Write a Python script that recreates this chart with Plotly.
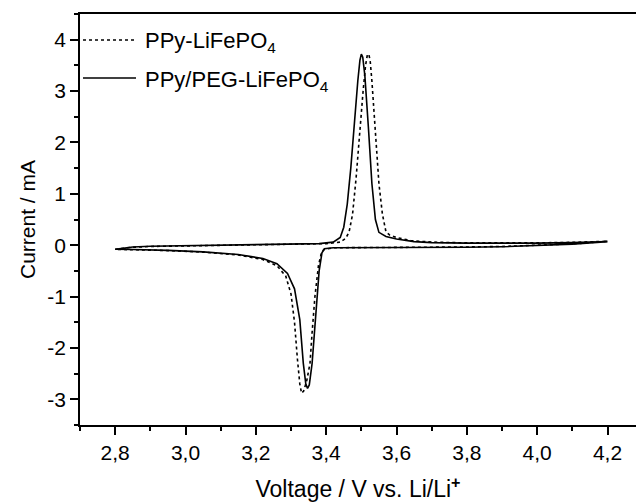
import plotly.graph_objects as go

# ---- data ----
series_names = ["PPy-LiFePO<sub>4</sub>", "PPy/PEG-LiFePO<sub>4</sub>"]

# PPy-LiFePO4 (dotted): anodic sweep then cathodic sweep
ppy_v = [2.80, 2.85, 2.90, 3.00, 3.10, 3.20, 3.30, 3.40, 3.44, 3.455, 3.465, 3.475, 3.485,
         3.495, 3.505, 3.512, 3.517, 3.521, 3.525, 3.53, 3.54, 3.55, 3.56, 3.57, 3.58, 3.60, 3.64,
         3.70, 3.80, 3.90, 4.00, 4.10, 4.20,
         4.10, 4.00, 3.90, 3.80, 3.70, 3.60, 3.50, 3.42, 3.395, 3.387, 3.378, 3.368, 3.36,
         3.354, 3.345, 3.336, 3.330, 3.325, 3.318, 3.31, 3.30, 3.285, 3.26, 3.22, 3.15,
         3.05, 2.95, 2.85, 2.80]
ppy_i = [-0.08, -0.04, -0.025, -0.015, -0.005, 0.005, 0.015, 0.03, 0.06, 0.13, 0.25, 0.6, 1.3,
         2.2, 3.0, 3.5, 3.7, 3.72, 3.6, 3.2, 2.2, 1.2, 0.6, 0.26, 0.2, 0.15, 0.09,
         0.06, 0.045, 0.04, 0.045, 0.055, 0.075,
         0.025, -0.005, -0.025, -0.035, -0.04, -0.04, -0.045, -0.05, -0.08, -0.13, -0.4, -1.0, -1.7,
         -2.3, -2.63, -2.84, -2.88, -2.7, -2.2, -1.5, -0.95, -0.6, -0.4, -0.28, -0.19,
         -0.135, -0.105, -0.09, -0.08]

# PPy/PEG-LiFePO4 (solid)
peg_v = [2.80, 2.85, 2.90, 3.00, 3.10, 3.20, 3.30, 3.38, 3.42, 3.44, 3.45, 3.46, 3.47, 3.48,
         3.49, 3.496, 3.500, 3.504, 3.51, 3.52, 3.53, 3.54, 3.55, 3.57, 3.60, 3.65, 3.70, 3.80, 3.90,
         4.00, 4.10, 4.20,
         4.10, 4.00, 3.90, 3.80, 3.70, 3.60, 3.50, 3.42, 3.395, 3.388, 3.38, 3.37, 3.36, 3.352,
         3.347, 3.342, 3.335, 3.325, 3.31, 3.29, 3.26, 3.22, 3.15, 3.05, 2.95, 2.85, 2.80]
peg_i = [-0.08, -0.035, -0.02, -0.01, 0.0, 0.01, 0.02, 0.03, 0.06, 0.15, 0.35, 0.8, 1.5, 2.4,
         3.2, 3.6, 3.72, 3.66, 3.3, 2.3, 1.2, 0.5, 0.25, 0.17, 0.12, 0.07, 0.05, 0.04, 0.035,
         0.04, 0.05, 0.07,
         0.02, -0.01, -0.03, -0.04, -0.045, -0.045, -0.045, -0.05, -0.07, -0.15, -0.5, -1.4, -2.3, -2.72,
         -2.79, -2.7, -2.3, -1.45, -0.85, -0.55, -0.36, -0.26, -0.18, -0.13, -0.1, -0.085, -0.08]

x_tick_vals = [2.8, 3.0, 3.2, 3.4, 3.6, 3.8, 4.0, 4.2]
x_tick_labels = ["2,8", "3,0", "3,2", "3,4", "3,6", "3,8", "4,0", "4,2"]
y_tick_vals = [-3, -2, -1, 0, 1, 2, 3, 4]
y_tick_labels = ["-3", "-2", "-1", "0", "1", "2", "3", "4"]

FONT = "Liberation Sans, Arial, sans-serif"

fig = go.Figure()
fig.add_trace(go.Scatter(x=ppy_v, y=ppy_i, mode="lines", name=series_names[0],
                         line=dict(color="black", width=1.6, dash="dot"), showlegend=False))
fig.add_trace(go.Scatter(x=peg_v, y=peg_i, mode="lines", name=series_names[1],
                         line=dict(color="black", width=1.6), showlegend=False))

# custom legend (samples + labels)
legend_rows = [(0.9367, 0.9319, "dot"), (0.8443, 0.8370, "solid")]
for name, (ly, ty, dash) in zip(series_names, legend_rows):
    fig.add_shape(type="line", xref="x domain", yref="y domain", x0=0.0054, x1=0.1007,
                  y0=ly, y1=ly, line=dict(color="black", width=1.6, dash=dash))
    fig.add_annotation(xref="x domain", yref="y domain", x=0.1133, y=ty, text=name,
                       showarrow=False, xanchor="left", yanchor="middle",
                       font=dict(family=FONT, size=22, color="black"))

fig.update_layout(
    width=636, height=503,
    margin=dict(l=80, r=0, t=14, b=78),
    paper_bgcolor="white", plot_bgcolor="white",
    font=dict(family=FONT, color="black"),
    showlegend=False,
)
fig.update_xaxes(
    range=[2.7, 4.281], tickvals=x_tick_vals, ticktext=x_tick_labels,
    ticks="outside", ticklen=8, tickwidth=1.6, tickcolor="black",
    minor=dict(dtick=0.1, tick0=2.7, ticks="outside", ticklen=4, tickwidth=1.6, tickcolor="black"),
    showline=True, linecolor="black", linewidth=1.8, mirror=True,
    showgrid=False, zeroline=False,
    tickfont=dict(family=FONT, size=21, color="black"),
    title=dict(text="Voltage / V vs. Li/Li<sup><b>+</b></sup>", standoff=18,
               font=dict(family=FONT, size=23, color="black")),
)
fig.update_yaxes(
    range=[-3.5, 4.5], tickvals=y_tick_vals, ticktext=y_tick_labels,
    ticks="outside", ticklen=8, tickwidth=1.6, tickcolor="black",
    minor=dict(dtick=0.5, tick0=-3.5, ticks="outside", ticklen=4, tickwidth=1.6, tickcolor="black"),
    showline=True, linecolor="black", linewidth=1.8, mirror=False,
    showgrid=False, zeroline=False,
    tickfont=dict(family=FONT, size=21, color="black"),
    title=dict(text="Current / mA", standoff=6,
               font=dict(family=FONT, size=21, color="black")),
)

fig.write_html("out.html")
